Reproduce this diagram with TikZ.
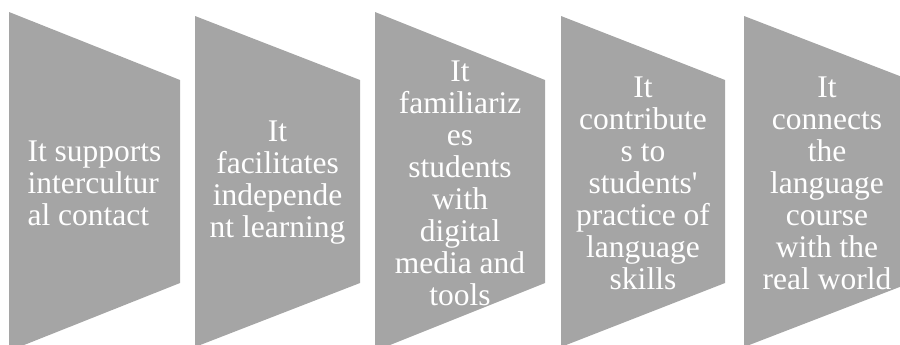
\documentclass[tikz,border=0pt]{standalone}
\usepackage{fontspec}
\setmainfont{Liberation Serif}
\definecolor{panelgray}{HTML}{A5A5A5}

\begin{document}
\begin{tikzpicture}[
    x=1bp, y=-1bp,
    panel/.style={fill=panelgray, draw=none},
    paneltext/.style={text=white, inner sep=0pt,
      font=\fontsize{31.5bp}{32bp}\selectfont}
  ]
  \useasboundingbox (0,0) rectangle (900,344);
  \clip (0,0) rectangle (900,344);
  % left x / right x / top of left edge / alignment / label
  \foreach \n/\lx/\rx/\ty/\al/\txt in {
      1/9/180/12/left/{It supports\\intercultur\\al contact},
      2/195/360/16/center/{It\\facilitates\\independe\\nt learning},
      3/375/545/12/center/{It\\familiariz\\es\\students\\with\\digital\\media and\\tools},
      4/561/725/16/center/{It\\contribute\\s to\\students\textquotesingle\\practice of\\language\\skills},
      5/744/910/16/center/{It\\connects\\the\\language\\course\\with the\\real world}} {
    \fill[panel] (\lx,\ty) -- (\rx,80) -- (\rx,283) -- (\lx,363-\ty) -- cycle;
    \node[paneltext, align=\al] (t\n) at ({(\lx+\rx)/2},183) {\txt};
  }
\end{tikzpicture}
\end{document}
